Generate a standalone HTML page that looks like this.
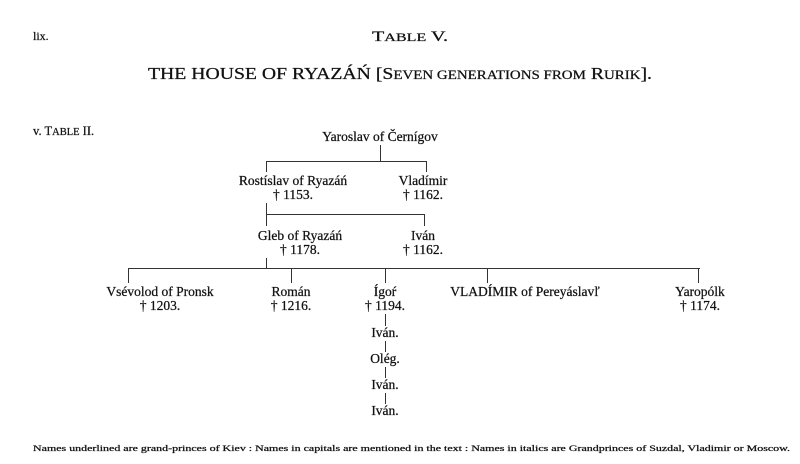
<!DOCTYPE html>
<html><head><meta charset="utf-8"><style>
html,body{margin:0;padding:0;background:#fff;}
svg{display:block;}
text{font-family:"Liberation Serif",serif;fill:#111;stroke:#111;stroke-width:0.25;}
</style></head><body>
<svg width="800" height="464" viewBox="0 0 800 464" xmlns="http://www.w3.org/2000/svg">
<g font-size="13.5">
<text x="33" y="40" font-size="12">lix.</text>
<text x="410" y="41" text-anchor="middle" font-size="15" textLength="76" lengthAdjust="spacingAndGlyphs">T<tspan font-size="12">ABLE</tspan> V.</text>
<text x="148" y="79" font-size="16.5" stroke-width="0.45" textLength="504" lengthAdjust="spacingAndGlyphs">THE HOUSE OF RYAZÁŃ [S<tspan font-size="12.5">EVEN GENERATIONS FROM</tspan> R<tspan font-size="12.5">URIK</tspan>].</text>
<text x="33" y="135" font-size="12.5">v. T<tspan font-size="10.5">ABLE</tspan> II.</text>

<text x="380" y="141" text-anchor="middle">Yaroslav of Černígov</text>
<text x="293" y="185" text-anchor="middle">Rostíslav of Ryazáń</text>
<text x="293" y="199" text-anchor="middle">† 1153.</text>
<text x="423" y="185" text-anchor="middle">Vladímir</text>
<text x="423" y="199" text-anchor="middle">† 1162.</text>
<text x="300" y="240" text-anchor="middle">Gleb of Ryazáń</text>
<text x="300" y="254" text-anchor="middle">† 1178.</text>
<text x="423" y="240" text-anchor="middle">Iván</text>
<text x="423" y="254" text-anchor="middle">† 1162.</text>

<text x="160" y="296" text-anchor="middle">Vsévolod of Pronsk</text>
<text x="160" y="310" text-anchor="middle">† 1203.</text>
<text x="291" y="296" text-anchor="middle">Román</text>
<text x="291" y="310" text-anchor="middle">† 1216.</text>
<text x="385" y="296" text-anchor="middle">Ígoŕ</text>
<text x="385" y="310" text-anchor="middle">† 1194.</text>
<text x="525" y="296" text-anchor="middle">VLADÍMIR of Pereyáslavľ</text>
<text x="700" y="296" text-anchor="middle">Yaropólk</text>
<text x="700" y="310" text-anchor="middle">† 1174.</text>

<text x="385" y="337" text-anchor="middle">Iván.</text>
<text x="385" y="363" text-anchor="middle">Olég.</text>
<text x="385" y="389" text-anchor="middle">Iván.</text>
<text x="385" y="415" text-anchor="middle">Iván.</text>

<text x="33" y="451" font-size="8.5" stroke-width="0.3" textLength="757" lengthAdjust="spacingAndGlyphs">Names underlined are grand-princes of Kiev :    Names in capitals are mentioned in the text :    Names in italics are Grandprinces of Suzdal, Vladimir or Moscow.</text>
</g>
<g stroke="#333" stroke-width="1" fill="none">
<path d="M380.5 145V161M266 161.5H426M266.5 161V172M426.5 161V172"/>
<path d="M266.5 203V226M266 214.5H424M424.5 214V226"/>
<path d="M266.5 258V268M128 268.5H700"/>
<path d="M128.5 268V283M291.5 268V283M385.5 268V283M487.5 268V283M698.5 268V283"/>
<path d="M385.5 314V326M385.5 341V352M385.5 367V378M385.5 393V404"/>
</g>
</svg>
</body></html>
